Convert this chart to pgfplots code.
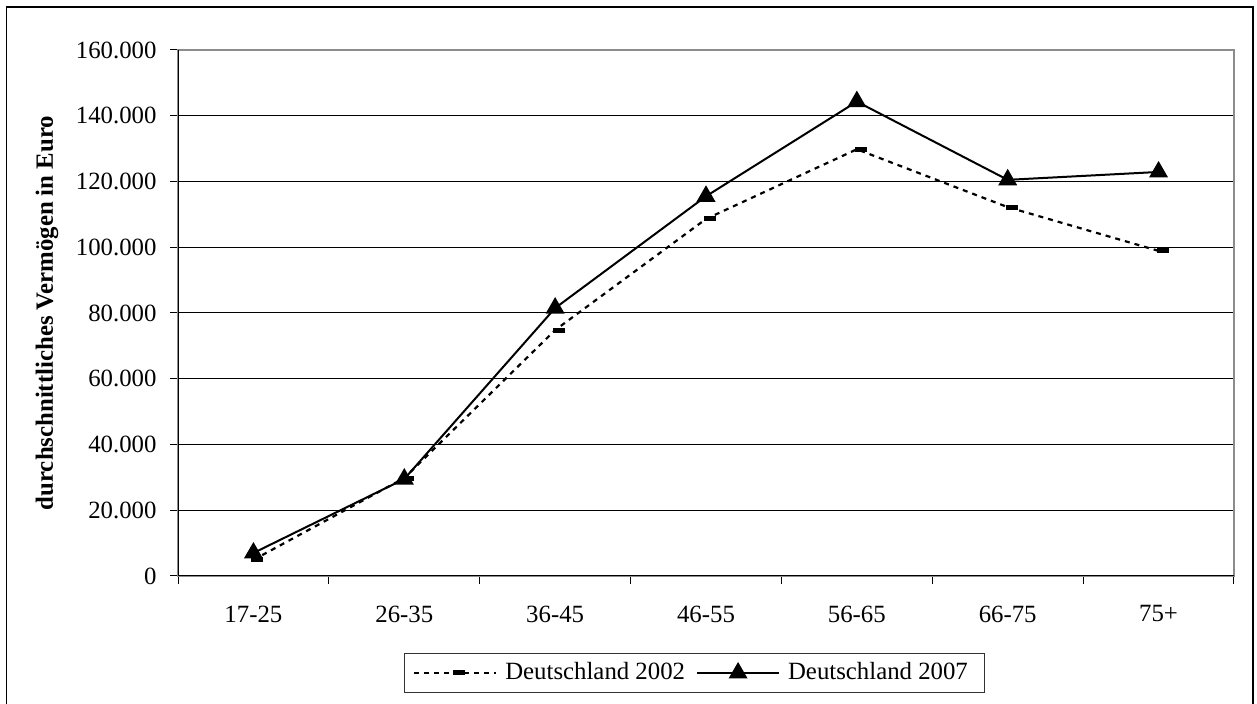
\documentclass[border=0pt]{standalone}
\usepackage{fontspec}
\setmainfont{Liberation Serif}
\usepackage{pgfplots}
\pgfplotsset{compat=1.18}

\pgfplotstableread{
x  d2002  d2007
1  4900   7000
2  29800  29500
3  74800  81500
4  108600 115500
5  129800 144300
6  112200 120500
7  98900  122900
}\vermoegen

\begin{document}
\fontsize{12.4}{14}\selectfont
\begin{tikzpicture}
\useasboundingbox (0pt,0pt) rectangle (628.5pt,352pt);
\draw[line width=0.6pt] (3.25pt,-5pt) -- (3.25pt,348.5pt) -- (626.5pt,348.5pt) -- (626.5pt,-5pt);
\begin{axis}[
  at={(89pt,64pt)}, anchor=south west,
  scale only axis, width=528pt, height=263pt,
  xmin=0.5, xmax=7.5, ymin=0, ymax=160000,
  xtick={1,...,7},
  xticklabels={17-25,26-35,36-45,46-55,56-65,66-75,75+},
  minor xtick={0.5,1.5,...,7.5},
  ytick={0,20000,...,160000},
  tick align=outside, tick pos=left,
  major tick length=4pt, minor tick length=4pt,
  every major x tick/.append style={draw=none},
  tick style={black, line width=0.5pt},
  ymajorgrids, grid style={black, line width=0.5pt},
  axis line style={draw=gray!90, line width=0.8pt},
  scaled y ticks=false,
  /pgf/number format/.cd, fixed, 1000 sep={.}, assume math mode=true,
  /pgfplots/.cd,
  yticklabel style={xshift=-2.4pt},
  xticklabel style={yshift=-6.5pt},
  ylabel={\bfseries durchschnittliches Vermögen in Euro},
  ylabel style={at={(axis description cs:-0.124,0.5)}, anchor=center},
  legend columns=2,
  legend style={at={(axis description cs:0.4891,-0.1844)}, anchor=center,
    draw=black!80, line width=0.5pt, inner xsep=4.5pt, inner ysep=4.4pt,
    nodes={inner sep=0pt, text height=0.7em, text depth=0.2em},
    /tikz/every odd column/.append style={column sep=4pt},
    /tikz/every even column/.append style={column sep=5.5pt}},
  legend cell align=left,
  legend image code/.code={\draw[mark repeat=2,mark phase=2,#1]
    plot coordinates {(0pt,0pt) (20.5pt,0pt) (41pt,0pt)};},
]
\draw[black, line width=0.7pt] (rel axis cs:0,1) -- (rel axis cs:0,0) -- (rel axis cs:1,0);
\addplot[black, line width=1.1pt, dash pattern=on 2.5pt off 2.5pt,
  mark=-, mark size=3pt, mark options={solid, line width=2.5pt, xshift=2pt}]
  table[x=x, y=d2002] {\vermoegen};
\addlegendentry{Deutschland 2002}
\addplot[black, line width=1pt, mark=triangle*, mark size=4.5pt, mark options={solid}]
  table[x=x, y=d2007] {\vermoegen};
\addlegendentry{Deutschland 2007\hspace*{4pt}}
\end{axis}
\end{tikzpicture}
\end{document}
